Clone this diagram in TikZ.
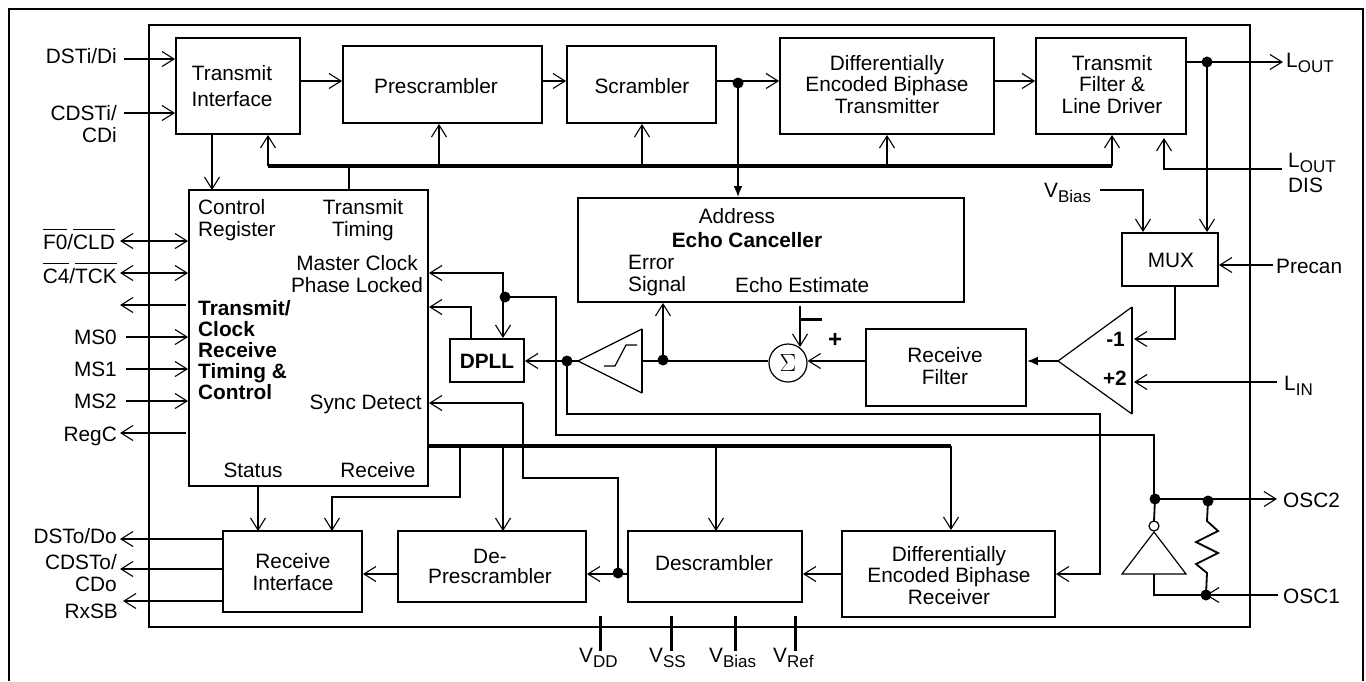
\documentclass[tikz,border=0pt]{standalone}
\usepackage{fontspec}
\setmainfont{Liberation Sans}
\usetikzlibrary{arrows.meta}
\newcommand{\notsig}[1]{$\overline{\mbox{\rule{0pt}{18pt}#1}}$}
\newcommand{\subsig}[1]{\raisebox{-5pt}{\fontsize{17pt}{17pt}\selectfont #1}}
\begin{document}
\begin{tikzpicture}[
  x=1pt,y=-1pt,
  every node/.style={inner sep=0pt,font=\fontsize{20.8pt}{21.5pt}\selectfont},
  block/.style={rectangle,draw,line width=1.9pt},
  txt/.style={align=center,anchor=base},
  txtl/.style={align=left,anchor=base west},
  txtr/.style={align=right,anchor=base east},
  wire/.style={line width=1.8pt},
  busline/.style={line width=3.2pt},
  thinline/.style={line width=1.2pt},
  sig/.style={wire,-{Straight Barb[length=12pt,width=15pt,line width=1.1pt]}},
  sigboth/.style={wire,{Straight Barb[length=12pt,width=15pt,line width=1.1pt]}-{Straight Barb[length=12pt,width=15pt,line width=1.1pt]}},
  sigfill/.style={wire,-{Latex[length=11pt,width=9pt]}},
  jdot/.style={circle,fill=black,minimum size=11pt},
  pin/.style={line width=3pt}
  ]

\useasboundingbox (0,0) rectangle (1366,681);

\draw[block] (9,681) -- (9,9) -- (1363,9) -- (1363,681);
\node[block,minimum width=1101pt,minimum height=602pt] (chip) at (699.5,326) {};

% blocks
\node[block,minimum width=124pt,minimum height=96pt] (txif) at (238,86) {};
\node[block,minimum width=199pt,minimum height=77pt] (presc) at (442.5,84.5) {};
\node[block,minimum width=149pt,minimum height=77pt] (scr) at (641.5,84.5) {};
\node[block,minimum width=214pt,minimum height=96pt] (dbtx) at (887,86) {};
\node[block,minimum width=150pt,minimum height=96pt] (txfil) at (1111,86) {};
\node[block,minimum width=239pt,minimum height=296pt] (ctrl) at (308.5,338) {};
\node[block,minimum width=386pt,minimum height=104pt] (echo) at (771,250) {};
\node[block,minimum width=74pt,minimum height=43pt] (dpll) at (487,360.5) {};
\node[block,minimum width=160pt,minimum height=77pt] (rxfil) at (946,367.5) {};
\node[block,minimum width=96pt,minimum height=53pt] (mux) at (1170,259.5) {};
\node[block,minimum width=139pt,minimum height=81pt] (rxif) at (292.5,571.5) {};
\node[block,minimum width=188pt,minimum height=71pt] (deprs) at (492,566.5) {};
\node[block,minimum width=174pt,minimum height=71pt] (descr) at (715,566.5) {};
\node[block,minimum width=213pt,minimum height=86pt] (dbrx) at (948.5,574) {};

% block texts
\node[txt,font=\fontsize{20.8pt}{26pt}\selectfont] (txif-t) at (232,106) {Transmit\\Interface};
\node[txt] (presc-t) at (436,93) {Prescrambler};
\node[txt] (scr-t) at (642,93) {Scrambler};
\node[txt] (dbtx-t) at (887,113) {Differentially\\Encoded Biphase\\Transmitter};
\node[txt] (txfil-t) at (1112,113) {Transmit\\Filter \&\\Line Driver};
\node[txtl] (ctrl-reg) at (198,236) {Control\\Register};
\node[txt] (ctrl-tim) at (363,236) {Transmit\\Timing};
\node[txt] (ctrl-clk) at (357,292) {Master Clock\\Phase Locked};
\node[txtl,font=\fontsize{20.8pt}{21pt}\selectfont\bfseries] (ctrl-t) at (198,399) {Transmit/\\Clock\\Receive\\Timing \&\\Control};
\node[txtr] (ctrl-sync) at (422,409) {Sync Detect};
\node[txt] (ctrl-st) at (253,477) {Status};
\node[txt] (ctrl-rx) at (378,477) {Receive};
\node[txt] (echo-addr) at (737,223) {Address};
\node[txt,font=\fontsize{20.8pt}{21pt}\selectfont\bfseries] (echo-t) at (747,247) {Echo Canceller};
\node[txtl] (echo-err) at (628,291) {Error\\Signal};
\node[txtl] (echo-est) at (735,292) {Echo Estimate};
\node[txt,font=\fontsize{20.8pt}{21pt}\selectfont\bfseries] (dpll-t) at (487,368) {DPLL};
\node[txt] (rxfil-t) at (945,384) {Receive\\Filter};
\node[txt] (mux-t) at (1171,267) {MUX};
\node[txt] (rxif-t) at (293,590) {Receive\\Interface};
\node[txt,font=\fontsize{20.8pt}{20pt}\selectfont] (deprs-t) at (490,583) {De-\\Prescrambler};
\node[txt] (descr-t) at (714,570) {Descrambler};
\node[txt] (dbrx-t) at (949,604) {Differentially\\Encoded Biphase\\Receiver};

% pin labels
\node[txtr] (dsti-l) at (117,63) {DSTi/Di};
\node[txtr] (cdsti-l) at (117,142) {CDSTi/\\CDi};
\node[txtr] (fo-l) at (115,249) {\notsig{F0}/\notsig{CLD}};
\node[txtr] (ck-l) at (117,283) {\notsig{C4}/\notsig{TCK}};
\node[txtr] (ms0-l) at (117,344) {MS0};
\node[txtr] (ms1-l) at (117,376) {MS1};
\node[txtr] (ms2-l) at (117,408) {MS2};
\node[txtr] (regc-l) at (117,441) {RegC};
\node[txtr] (dsto-l) at (117,543) {DSTo/Do};
\node[txtr] (cdsto-l) at (117,591) {CDSTo/\\CDo};
\node[txtr] (rxsb-l) at (118,618) {RxSB};
\node[txtl] (lout-l) at (1286,67) {L\subsig{OUT}};
\node[txtl,font=\fontsize{20.8pt}{25pt}\selectfont] (ldis-l) at (1288,192) {L\subsig{OUT}\\DIS};
\node[txtl] (vb-l) at (1044,197) {V\subsig{Bias}};
\node[txtl] (prec-l) at (1276,273) {Precan};
\node[txtl] (lin-l) at (1284,390) {L\subsig{IN}};
\node[txtl] (osc2-l) at (1283,507) {OSC2};
\node[txtl] (osc1-l) at (1283,603) {OSC1};
\node[txtl] (vdd-l) at (579,662) {V\subsig{DD}};
\node[txtl] (vss-l) at (649,662) {V\subsig{SS}};
\node[txtl] (vbb-l) at (709,662) {V\subsig{Bias}};
\node[txtl] (vref-l) at (773,662) {V\subsig{Ref}};

% free ends
\coordinate (dsti) at (124,59);
\coordinate (cdsti) at (124,113);
\coordinate (fo) at (120,241);
\coordinate (ck) at (120,273);
\coordinate (nc) at (120,305);
\coordinate (ms0) at (126,337);
\coordinate (ms1) at (126,369);
\coordinate (ms2) at (126,401);
\coordinate (regc) at (120,433);
\coordinate (dsto) at (120,539);
\coordinate (cdsto) at (120,569);
\coordinate (rxsb) at (123,601);
\coordinate (lout) at (1283,62);
\coordinate (ldis) at (1282,169);
\coordinate (vb) at (1100,190);
\coordinate (prec) at (1273,265);
\coordinate (lin) at (1277,382);
\coordinate (osc2) at (1277,499);
\coordinate (osc1) at (1278,595);

% left pins
\draw[sig] (dsti) -- (dsti -| txif.west);
\draw[sig] (cdsti) -- (cdsti -| txif.west);
\draw[sigboth] (fo) -- (fo -| ctrl.west);
\draw[sigboth] (ck) -- (ck -| ctrl.west);
\draw[sig] (186,305) -- (nc);
\draw[sig] (ms0) -- (ms0 -| ctrl.west);
\draw[sig] (ms1) -- (ms1 -| ctrl.west);
\draw[sig] (ms2) -- (ms2 -| ctrl.west);
\draw[sig] (186,433) -- (regc);
\draw[sig] (dsto -| rxif.west) -- (dsto);
\draw[sig] (cdsto -| rxif.west) -- (cdsto);
\draw[sig] (rxsb -| rxif.west) -- (rxsb);

% transmit path
\coordinate (toppath) at (300,81);
\node[jdot] (j-scr) at (738,83) {};
\node[jdot] (j-lout) at (1207,62) {};
\draw[sig] (toppath) -- (toppath -| presc.west);
\draw[sig] (toppath -| presc.east) -- (toppath -| scr.west);
\draw[sig] (toppath -| scr.east) -- (toppath -| dbtx.west);
\draw[sig] (toppath -| dbtx.east) -- (toppath -| txfil.west);
\draw[sigfill] (j-scr.center) -- (j-scr |- echo.north);
\draw[wire] (lout -| txfil.east) -- (j-lout.center);
\draw[sig] (j-lout.center) -- (lout);
\draw[sig] (j-lout.center) -- (j-lout |- mux.north);
\draw[sig] (212,134) -- (212,190);

% upper bus
\coordinate (bus-l) at (268,166);
\coordinate (bus-r) at (1112,166);
\draw[busline] (bus-l) -- (bus-r);
\draw[sig] (bus-l) -- (bus-l |- txif.south);
\draw[sig] (bus-r) -- (bus-r |- txfil.south);
\draw[sig] (439,166) -- (439,124);
\draw[sig] (642,166) -- (642,124);
\draw[sig] (887,166) -- (887,135);
\draw[wire] (349,190) -- (349,166);

% mux
\draw[sig] (ldis) -- (1164,169) -- (1164,138);
\draw[sig] (vb) -- (1143,190) -- (1143,232);
\draw[sig] (prec) -- (prec -| mux.east);

% amplifier, filter, sum, limiter
\coordinate (amp-o) at (1058,361);
\coordinate (amp-m) at (1134,339);
\draw[thinline] (amp-o) -- (1132,307);
\draw[thinline] (amp-o) -- (1132,414);
\draw[wire] (1132,307) -- (1132,414);
\node[anchor=base east,font=\fontsize{20.8pt}{21pt}\selectfont\bfseries] (amp-neg) at (1125,346) {-1};
\node[anchor=base east,font=\fontsize{20.8pt}{21pt}\selectfont\bfseries] (amp-pos) at (1127,385) {+2};
\draw[sig] (1175,286) -- (1175,339) -- (amp-m);
\draw[sig] (lin) -- (1134,382);
\draw[sigfill] (amp-o) -- (amp-o -| rxfil.east);
\node[circle,draw,line width=1.2pt,minimum size=38pt] (sum) at (788,363) {\fontsize{34pt}{34pt}\selectfont$\Sigma$};
\coordinate (lim-o) at (578,361);
\coordinate (lim-i) at (642,361);
\draw[thinline] (lim-o) -- (642,329);
\draw[thinline] (lim-o) -- (642,393);
\draw[wire] (642,329) -- (642,393);
\draw[thinline] (604,366) -- (615,366) -- (626,345) -- (637,345);
\node[jdot] (j-err) at (663,360) {};
\node[jdot] (j-lim) at (567,361) {};
\draw[sig] (lim-o -| rxfil.west) -- (lim-o -| sum.east);
\draw[wire] (lim-o -| sum.west) -- (lim-i);
\draw[sig] (j-err.center) -- (j-err |- echo.south);
\draw[sig] (800,306) -- (800,347);
\draw[pin] (801,319) -- (822,319);
\node[txt,font=\fontsize{24pt}{24pt}\selectfont\bfseries] (sum-pos) at (835,347) {+};
\draw[wire] (lim-o) -- (j-lim.center);
\draw[sig] (j-lim.center) -- (j-lim -| dpll.east);

% clock loop
\node[jdot] (j-clk) at (505,297) {};
\node[jdot] (j-osc) at (1155,499) {};
\node[jdot] (j-res) at (1208,501) {};
\node[jdot] (j-osc1) at (1206,595) {};
\node[jdot] (j-rx) at (618,573) {};
\coordinate (rxline) at (1100,574);
\draw[sig] (j-lim.center) -- (567,414) -- (1100,414) -- (rxline) -- (rxline -| dbrx.east);
\draw[wire] (j-clk.center) -- (556,297) -- (556,435) -- (1154,435) -- (1154,499);
\draw[sig] (503,297) -- (503,273) -- (429,273);
\draw[sig] (503,297) -- (503,338);
\draw[sig] (471,339) -- (471,307) -- (429,307);

% oscillator
\draw[wire] (j-osc.center) -- (1154,521);
\node[circle,draw,line width=1.2pt,fill=white,minimum size=10pt] (inv-bub) at (1154,526) {};
\coordinate (inv-t) at (1154,532);
\coordinate (inv-b) at (1154,574);
\draw[thinline] (inv-t) -- (1122,574) -- (1186,574) -- cycle;
\draw[wire] (inv-b) -- (1154,595) -- (j-osc1.center);
\draw[sig] (j-osc.center) -- (osc2);
\draw[sig] (osc1) -- (j-osc1.center);
\draw[wire] (j-res.center) -- (1207,521) -- (1218,531) -- (1196,542) -- (1218,553) -- (1196,564) -- (1207,573) -- (j-osc1.center);

% receive path
\coordinate (bus2-l) at (428,446);
\coordinate (bus2-r) at (951,446);
\draw[busline] (bus2-l) -- (bus2-r);
\draw[sig] (bus2-r) -- (bus2-r |- dbrx.north);
\draw[sig] (716,446) -- (716,531);
\draw[sig] (503,446) -- (503,531);
\draw[sig] (460,446) -- (460,497) -- (332,497) -- (332,531);
\draw[sig] (258,486) -- (258,531);
\draw[sig] (523,403) -- (429,403);
\draw[wire] (523,403) -- (523,478) -- (618,478) -- (j-rx.center);
\draw[sig] (rxline -| descr.west) -- (rxline -| deprs.east);
\draw[sig] (rxline -| dbrx.west) -- (rxline -| descr.east);
\draw[sig] (rxline -| deprs.west) -- (rxline -| rxif.east);

% supply pins
\draw[pin] (600,616) -- (600,651);
\draw[pin] (671,616) -- (671,651);
\draw[pin] (735,616) -- (735,651);
\draw[pin] (795,616) -- (795,651);

\end{tikzpicture}
\end{document}
